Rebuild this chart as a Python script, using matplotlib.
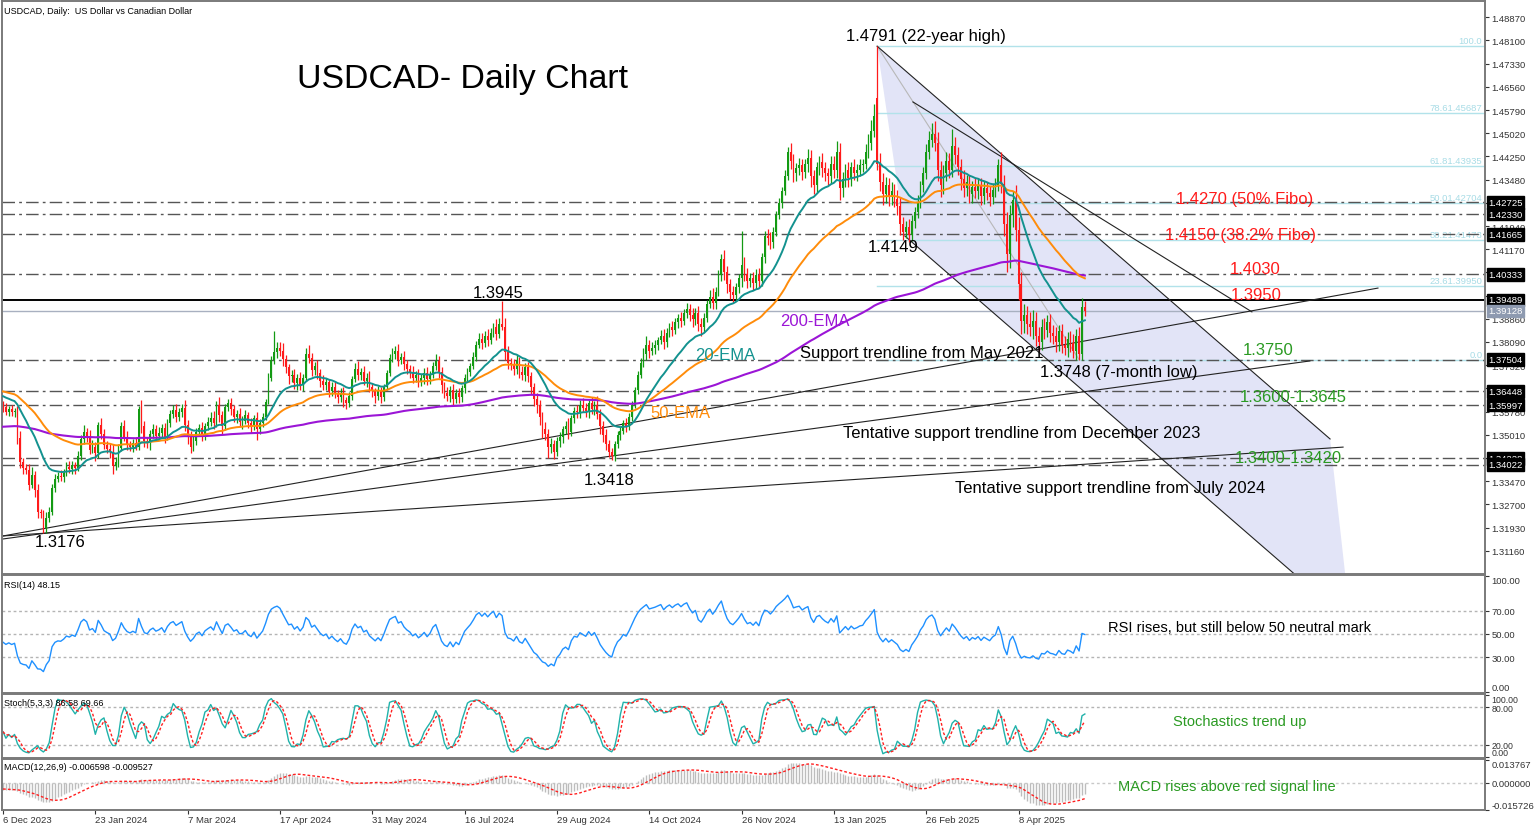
import numpy as np
import matplotlib
matplotlib.use("Agg")
import matplotlib.pyplot as plt

plt.rcParams['font.family'] = ['Liberation Sans', 'DejaVu Sans']

# ---- daily USDCAD closes (bar 0 = 6 Dec 2023) ----
closes = [
    1.3592, 1.3578, 1.3585, 1.3575, 1.3580, 1.3490, 1.3410, 1.3392, 1.3385, 1.3335,
    1.3368, 1.3318, 1.3245, 1.3240, 1.3192, 1.3225, 1.3245, 1.3325, 1.3355, 1.3365,
    1.3362, 1.3375, 1.3395, 1.3388, 1.3400, 1.3392, 1.3432, 1.3488, 1.3510, 1.3498,
    1.3452, 1.3462, 1.3440, 1.3532, 1.3505, 1.3468, 1.3455, 1.3445, 1.3398, 1.3412,
    1.3458, 1.3530, 1.3495, 1.3470, 1.3460, 1.3472, 1.3462, 1.3585, 1.3530, 1.3480,
    1.3472, 1.3505, 1.3520, 1.3498, 1.3508, 1.3525, 1.3495, 1.3540, 1.3570, 1.3582,
    1.3560, 1.3575, 1.3590, 1.3535, 1.3495, 1.3462, 1.3480, 1.3510, 1.3522, 1.3498,
    1.3530, 1.3545, 1.3558, 1.3540, 1.3600, 1.3565, 1.3530, 1.3592, 1.3605, 1.3585,
    1.3560, 1.3570, 1.3545, 1.3548, 1.3565, 1.3540, 1.3530, 1.3555, 1.3520, 1.3540,
    1.3560, 1.3610, 1.3690, 1.3750, 1.3775, 1.3790, 1.3780, 1.3752, 1.3725, 1.3695,
    1.3700, 1.3672, 1.3690, 1.3665, 1.3690, 1.3770, 1.3755, 1.3715, 1.3730, 1.3705,
    1.3680, 1.3665, 1.3675, 1.3645, 1.3660, 1.3640, 1.3625, 1.3640, 1.3615, 1.3605,
    1.3630, 1.3685, 1.3720, 1.3700, 1.3710, 1.3680, 1.3690, 1.3660, 1.3645, 1.3630,
    1.3645, 1.3628, 1.3660, 1.3705, 1.3755, 1.3770, 1.3780, 1.3750, 1.3760, 1.3735,
    1.3720, 1.3710, 1.3690, 1.3700, 1.3680, 1.3690, 1.3705, 1.3685, 1.3700, 1.3730,
    1.3745, 1.3710, 1.3665, 1.3640, 1.3630, 1.3650, 1.3620, 1.3640, 1.3625, 1.3655,
    1.3690, 1.3710, 1.3730, 1.3760, 1.3800, 1.3820, 1.3805, 1.3830, 1.3815, 1.3840,
    1.3860, 1.3835, 1.3870, 1.3860, 1.3775, 1.3740, 1.3735, 1.3720, 1.3745, 1.3710,
    1.3700, 1.3725, 1.3695, 1.3660, 1.3620, 1.3600, 1.3560, 1.3520, 1.3505, 1.3460,
    1.3470, 1.3445, 1.3480, 1.3495, 1.3520, 1.3530, 1.3510, 1.3555, 1.3580, 1.3575,
    1.3600, 1.3590, 1.3580, 1.3605, 1.3585, 1.3600, 1.3570, 1.3530, 1.3500, 1.3470,
    1.3445, 1.3430, 1.3470, 1.3500, 1.3515, 1.3540, 1.3530, 1.3560, 1.3600, 1.3650,
    1.3700, 1.3740, 1.3770, 1.3800, 1.3780, 1.3790, 1.3800, 1.3815, 1.3830, 1.3810,
    1.3840, 1.3860, 1.3850, 1.3875, 1.3890, 1.3880, 1.3905, 1.3920, 1.3900, 1.3885,
    1.3905, 1.3870, 1.3860, 1.3890, 1.3935, 1.3960, 1.3940, 1.3975, 1.4030, 1.4085,
    1.4040, 1.4000, 1.3975, 1.3965, 1.3990, 1.4020, 1.4065, 1.4035, 1.4010, 1.4020,
    1.4005, 1.4030, 1.4010, 1.4090, 1.4160, 1.4155, 1.4140, 1.4175, 1.4230, 1.4270,
    1.4310, 1.4360, 1.4440, 1.4410, 1.4370, 1.4385, 1.4395, 1.4375, 1.4400, 1.4420,
    1.4360, 1.4330, 1.4390, 1.4405, 1.4385, 1.4370, 1.4360, 1.4400, 1.4380, 1.4440,
    1.4320, 1.4350, 1.4380, 1.4355, 1.4390, 1.4370, 1.4380, 1.4395, 1.4400, 1.4440,
    1.4470, 1.4510, 1.4560, 1.4400, 1.4340, 1.4300, 1.4330, 1.4290, 1.4310, 1.4285,
    1.4260, 1.4200, 1.4175, 1.4190, 1.4165, 1.4210, 1.4240, 1.4275, 1.4330, 1.4370,
    1.4440, 1.4480, 1.4500, 1.4470, 1.4380, 1.4330, 1.4370, 1.4410, 1.4380, 1.4460,
    1.4430, 1.4390, 1.4350, 1.4320, 1.4340, 1.4300, 1.4325, 1.4310, 1.4330, 1.4295,
    1.4320, 1.4305, 1.4290, 1.4315, 1.4330, 1.4395, 1.4335, 1.4200, 1.4100, 1.4230,
    1.4280, 1.4180, 1.4000, 1.3880, 1.3900, 1.3870, 1.3860, 1.3880, 1.3830, 1.3810,
    1.3860, 1.3850, 1.3875, 1.3840, 1.3830, 1.3810, 1.3845, 1.3800, 1.3790, 1.3820,
    1.3805, 1.3780, 1.3830, 1.3770, 1.3925, 1.3913,
]
# upper / lower shadow length in pips above/below the candle body
wick_up = [
    12, 15, 10, 14, 9, 18, 22, 15, 12, 20, 25, 14, 18, 10, 12, 20, 15, 11, 16, 13,
    18, 12, 15, 20, 14, 10, 16, 12, 22, 15, 18, 20, 14, 10, 25, 16, 12, 18, 24, 14,
    12, 15, 20, 18, 10, 14, 22, 12, 30, 16, 14, 12, 18, 15, 20, 11, 16, 14, 12, 18,
    20, 15, 12, 25, 14, 18, 16, 12, 15, 20, 10, 14, 18, 22, 12, 25, 16, 10, 15, 18,
    14, 12, 20, 15, 18, 12, 16, 10, 22, 14, 12, 10, 15, 12, 71, 20, 18, 25, 15, 12,
    16, 20, 14, 18, 12, 20, 30, 16, 12, 18, 15, 20, 14, 12, 16, 18, 10, 15, 20, 12,
    14, 10, 18, 25, 12, 20, 16, 22, 14, 12, 18, 15, 10, 12, 14, 20, 16, 22, 12, 18,
    15, 12, 20, 14, 18, 12, 16, 20, 14, 12, 25, 18, 15, 12, 20, 14, 18, 12, 16, 10,
    12, 14, 10, 16, 12, 18, 20, 14, 22, 16, 12, 25, 18, 76, 30, 20, 16, 18, 22, 15,
    20, 14, 18, 16, 12, 20, 15, 18, 22, 16, 20, 14, 12, 15, 10, 18, 25, 12, 14, 20,
    16, 22, 18, 12, 20, 14, 30, 16, 18, 20, 15, 12, 10, 14, 12, 10, 16, 12, 14, 10,
    12, 15, 18, 30, 14, 20, 16, 12, 18, 22, 14, 12, 20, 15, 12, 18, 14, 20, 16, 22,
    18, 25, 20, 14, 12, 20, 28, 15, 18, 16, 30, 22, 18, 20, 14, 16, 112, 25, 20, 18,
    22, 20, 25, 15, 18, 24, 20, 16, 14, 18, 12, 20, 15, 30, 22, 18, 25, 20, 18, 30,
    25, 20, 18, 22, 30, 20, 18, 25, 28, 35, 30, 22, 20, 28, 18, 25, 20, 22, 18, 25,
    30, 35, 40, 171, 35, 30, 28, 25, 30, 22, 28, 30, 25, 22, 28, 20, 18, 22, 15, 20,
    25, 30, 35, 43, 35, 30, 25, 30, 28, 56, 30, 28, 25, 30, 22, 25, 20, 28, 24, 22,
    25, 20, 22, 18, 25, 20, 45, 30, 40, 35, 30, 50, 45, 40, 35, 30, 40, 35, 30, 28,
    25, 30, 22, 28, 25, 30, 20, 25, 28, 22, 25, 30, 22, 28, 30, 20,
]
wick_dn = [
    14, 10, 16, 12, 15, 20, 18, 22, 15, 18, 12, 25, 20, 15, 16, 18, 12, 10, 14, 12,
    15, 18, 12, 14, 16, 20, 12, 15, 18, 22, 14, 12, 25, 15, 18, 14, 16, 20, 28, 15,
    18, 12, 15, 20, 14, 16, 12, 10, 22, 18, 15, 20, 14, 18, 12, 16, 22, 10, 14, 15,
    18, 12, 15, 22, 25, 20, 16, 14, 12, 18, 15, 12, 14, 20, 12, 22, 30, 14, 12, 18,
    15, 20, 14, 25, 12, 18, 22, 14, 38, 16, 12, 10, 8, 12, 15, 20, 16, 22, 18, 25,
    20, 18, 22, 15, 20, 12, 16, 20, 14, 18, 22, 16, 15, 20, 14, 18, 20, 15, 22, 18,
    12, 14, 10, 16, 18, 14, 20, 16, 18, 22, 14, 20, 16, 12, 10, 14, 16, 20, 15, 18,
    16, 20, 18, 14, 20, 16, 22, 18, 14, 12, 15, 20, 25, 18, 16, 20, 24, 15, 20, 14,
    16, 12, 14, 10, 15, 12, 20, 14, 18, 12, 15, 20, 14, 10, 25, 20, 18, 22, 16, 20,
    18, 22, 20, 25, 22, 28, 25, 30, 22, 35, 20, 25, 14, 18, 20, 15, 22, 12, 16, 20,
    18, 15, 20, 22, 16, 20, 18, 25, 22, 20, 18, 12, 16, 14, 18, 12, 20, 14, 12, 10,
    15, 12, 14, 20, 25, 15, 20, 18, 14, 25, 16, 14, 20, 15, 18, 22, 14, 18, 22, 25,
    20, 25, 30, 18, 15, 12, 22, 20, 14, 18, 25, 30, 22, 25, 20, 18, 30, 25, 22, 20,
    25, 20, 22, 15, 20, 25, 22, 18, 15, 12, 15, 14, 12, 28, 30, 25, 22, 28, 20, 25,
    35, 30, 22, 25, 28, 25, 30, 22, 25, 28, 40, 30, 25, 30, 28, 22, 25, 20, 22, 18,
    20, 25, 22, 20, 30, 35, 28, 30, 25, 28, 30, 35, 26, 22, 25, 20, 22, 18, 20, 22,
    20, 25, 22, 28, 35, 40, 30, 28, 25, 22, 30, 28, 35, 30, 25, 28, 30, 22, 25, 30,
    28, 25, 30, 22, 25, 20, 30, 40, 60, 45, 40, 35, 50, 45, 40, 35, 30, 40, 35, 30,
    28, 30, 25, 30, 28, 35, 30, 28, 25, 30, 28, 25, 30, 22, 20, 18,
]
first_open = 1.3600
gap_opens = {303: 1.4620}

date_labels = ["6 Dec 2023", "23 Jan 2024", "7 Mar 2024", "17 Apr 2024", "31 May 2024",
               "16 Jul 2024", "29 Aug 2024", "14 Oct 2024", "26 Nov 2024", "13 Jan 2025",
               "26 Feb 2025", "8 Apr 2025"]
date_every = 32

ema_start = {20: 1.3633, 50: 1.3647, 200: 1.3527}
macd_start = (1.3625, 1.3670, -0.0035)   # ema12, ema26, signal
rsi_start = (0.0011, 0.0014)             # avg gain, avg loss

# horizontal levels and right-axis tags
levels = [1.42725, 1.42330, 1.41665, 1.40333, 1.37504, 1.36448, 1.35997, 1.34228, 1.34022]
key_level = 1.39489
last_price = 1.39128
fib_prices = [1.37504, 1.39950, 1.41473, 1.42704, 1.43935, 1.45687, 1.47913]
fib_names = ["0.0", "23.61.39950", "38.21.41473", "50.01.42704", "61.81.43935", "78.61.45687", "100.0"]
fib_start = 303

# drawn objects: (bar, price) anchors
trend_lines = [
    [(303, 1.4791), (460.0, 1.3487)],
    [(315.4, 1.4606), (432.9, 1.3909)],
    [(312.6, 1.4161), (460.0, 1.2936)],
    [(0, 1.3165), (476.6, 1.3988)],
    [(0, 1.3155), (453.0, 1.3746)],
    [(0, 1.3165), (464.5, 1.3460)],
]
fib_base = [(303, 1.47913), (373, 1.37504)]
channel = [(303, 1.4791), (460.0, 1.3487), (467.1, 1.2878), (312.6, 1.4161)]

# ---- derived series ----
c = np.array(closes)
n = len(c)
o = np.empty(n)
o[0] = first_open
o[1:] = c[:-1]
for k, v in gap_opens.items():
    o[k] = v
h = np.maximum(o, c) + np.array(wick_up) / 10000
l = np.minimum(o, c) - np.array(wick_dn) / 10000
x = np.arange(n)


def ema(vals, period, start):
    a = 2.0 / (period + 1)
    out, prev = [], start
    for v in vals:
        prev = prev + a * (v - prev)
        out.append(prev)
    return np.array(out)


ema20 = ema(c, 20, ema_start[20])
ema50 = ema(c, 50, ema_start[50])
ema200 = ema(c, 200, ema_start[200])

# RSI(14), Wilder smoothing
ag, al = rsi_start
rsi = []
prev = first_open
for v in c:
    d = v - prev
    ag = (ag * 13 + max(d, 0)) / 14
    al = (al * 13 + max(-d, 0)) / 14
    rsi.append(100 - 100 / (1 + ag / al))
    prev = v
rsi = np.array(rsi)

# Stochastic(5,3,3)
num, den = [], []
for i in range(n):
    lo = l[max(0, i - 4):i + 1].min()
    hi = h[max(0, i - 4):i + 1].max()
    num.append(c[i] - lo)
    den.append(hi - lo)
num, den = np.array(num), np.array(den)
stoch_k = np.array([100 * num[max(0, i - 2):i + 1].sum() / den[max(0, i - 2):i + 1].sum() for i in range(n)])
stoch_d = np.array([stoch_k[max(0, i - 2):i + 1].mean() for i in range(n)])

# MACD(12,26,9)
macd = ema(c, 12, macd_start[0]) - ema(c, 26, macd_start[1])
hist = [macd_start[2]] * 8 + list(macd)
signal = np.array([np.mean(hist[i:i + 9]) for i in range(n)])

# ---- figure layout (pixel based) ----
W, H = 1536, 829
fig = plt.figure(figsize=(W / 100, H / 100), dpi=100)


def box(x0, y0, x1, y1):
    return [x0 / W, 1 - y1 / H, (x1 - x0) / W, (y1 - y0) / H]


ax = fig.add_axes(box(2, 2, 1485, 575))
ax_rsi = fig.add_axes(box(2, 576, 1485, 694))
ax_sto = fig.add_axes(box(2, 695, 1485, 759))
ax_macd = fig.add_axes(box(2, 760, 1485, 811))

for a in (ax, ax_rsi, ax_sto, ax_macd):
    a.set_xlim(-0.35, 513.7)
    for s in a.spines.values():
        s.set_color('#7a7a7a')
        s.set_linewidth(1.4)
    a.yaxis.tick_right()
    a.tick_params(axis='y', direction='out', length=3, width=0.8, labelsize=6.8,
                  colors='#333333', pad=1.5)
    a.tick_params(axis='x', bottom=False, labelbottom=False)


def edge_labels(a, first='bottom', last='top'):
    # MT4 keeps the extreme scale labels inside the panel
    tks = a.yaxis.get_major_ticks()
    tks[0].label2.set_va(first)
    tks[-1].label2.set_va(last)


ax.set_ylim(1.30387, 1.49411)
ticks = [1.3116 + 0.0077 * k for k in range(24)]
tags = levels + [key_level]
ax.set_yticks(ticks)
ax.set_yticklabels(["" if min(abs(t - g) for g in tags) < 0.0016 else f"{t:.5f}" for t in ticks])

# channel shading and fibonacci
ax.fill([p[0] for p in channel], [p[1] for p in channel], color='#e2e4f7', lw=0, zorder=0.5)
for p, name in zip(fib_prices, fib_names):
    ax.plot([fib_start, 513.7], [p, p], color='#b2e2ea', lw=1, zorder=0.8)
    ax.text(512.8, p + 0.0003, name, color='#a8dce6', fontsize=6.8, ha='right', va='bottom', zorder=0.9)
ax.plot([fib_base[0][0], fib_base[1][0]], [fib_base[0][1], fib_base[1][1]], color='#b8b8b8', lw=0.8, zorder=0.9)

for lv in levels:
    ax.axhline(lv, color='#555555', lw=1.0, dashes=(9, 3, 2, 3), zorder=1)
ax.axhline(key_level, color='black', lw=1.4, zorder=1)
ax.axhline(last_price, color='#a8b0c0', lw=1.0, zorder=1)

for (x0, y0), (x1, y1) in trend_lines:
    ax.plot([x0, x1], [y0, y1], color='#222222', lw=0.8, zorder=1.2)

# candles
up = c >= o
col = np.where(up, '#139a13', '#ff1a1a')
ax.vlines(x, l, h, colors=col, lw=0.9, zorder=2)
ax.bar(x, np.maximum(np.abs(c - o), 0.00015), bottom=np.minimum(o, c), width=0.62,
       color=col, lw=0, zorder=2.1)

ax.plot(x, ema200, color='#9b15d6', lw=1.5, zorder=3)
ax.plot(x, ema50, color='#ff8c0a', lw=1.4, zorder=3)
ax.plot(x, ema20, color='#13928f', lw=1.4, zorder=3)

# right-axis tags
tr = ax.get_yaxis_transform()
for lv in tags:
    ax.text(1.0022, lv, f"{lv:.5f}", transform=tr, color='white', fontsize=6.8, ha='left', va='center',
            bbox=dict(boxstyle='square,pad=0.18', fc='black', ec='black'), zorder=10, clip_on=False)
ax.text(1.0022, last_price, f"{last_price:.5f}", transform=tr, color='white', fontsize=6.8, ha='left',
        va='center', bbox=dict(boxstyle='square,pad=0.18', fc='#8e9ab0', ec='#8e9ab0'), zorder=10, clip_on=False)

# texts
ax.text(0.0015, 0.992, "USDCAD, Daily:  US Dollar vs Canadian Dollar", transform=ax.transAxes,
        fontsize=6.5, va='top', ha='left')
ax.text(0.199, 0.864, "USDCAD- Daily Chart", transform=ax.transAxes, fontsize=24.4, va='center', ha='left')

notes = [
    (292.2, 1.4828, "1.4791 (22-year high)", 'black'),
    (299.8, 1.4126, "1.4149", 'black'),
    (162.9, 1.3972, "1.3945", 'black'),
    (201.4, 1.3351, "1.3418", 'black'),
    (11.1, 1.3146, "1.3176", 'black'),
    (359.4, 1.3710, "1.3748 (7-month low)", 'black'),
    (276.3, 1.3773, "Support trendline from May 2021", 'black'),
    (291.2, 1.3507, "Tentative support trendline from December 2023", 'black'),
    (330.0, 1.3325, "Tentative support trendline from July 2024", 'black'),
    (269.3, 1.3879, "200-EMA", '#9b15d6'),
    (239.9, 1.3766, "20-EMA", '#13928f'),
    (224.3, 1.3574, "50-EMA", '#ff8c0a'),
    (406.6, 1.4284, "1.4270 (50% Fibo)", '#ff1a1a'),
    (402.8, 1.4165, "1.4150 (38.2% Fibo)", '#ff1a1a'),
    (425.3, 1.4052, "1.4030", '#ff1a1a'),
    (425.6, 1.3966, "1.3950", '#ff1a1a'),
    (429.8, 1.3783, "1.3750", '#2a9a22'),
    (428.8, 1.3627, "1.3600-1.3645", '#2a9a22'),
    (427.0, 1.3424, "1.3400-1.3420", '#2a9a22'),
]
for bx, py, s, cl in notes:
    ax.text(bx, py, s, color=cl, fontsize=12, ha='left', va='center', zorder=6)

# RSI panel
ax_rsi.set_ylim(-0.6, 100.6)
ax_rsi.set_yticks([0, 30, 50, 70, 100])
ax_rsi.set_yticklabels(["0.00", "30.00", "50.00", "70.00", "100.00"])
edge_labels(ax_rsi)
for lv in (30, 50, 70):
    ax_rsi.axhline(lv, color='#b4b4b4', lw=1, ls=(0, (2, 2)))
ax_rsi.plot(x, rsi, color='#1e90ff', lw=1)
ax_rsi.text(0.0015, 0.96, "RSI(14) 48.15", transform=ax_rsi.transAxes, fontsize=6.5, va='top')
ax_rsi.text(383, 56, "RSI rises, but still below 50 neutral mark", fontsize=10.5, va='center')

# Stochastic panel
ax_sto.set_ylim(-0.8, 101.4)
ax_sto.set_yticks([0, 20, 80, 100])
ax_sto.set_yticklabels(["0.00", "20.00", "80.00", "100.00"])
edge_labels(ax_sto)
for t in ax_sto.get_yticklabels():
    t.set_fontsize(6.3)
for lv in (20, 80):
    ax_sto.axhline(lv, color='#b4b4b4', lw=1, ls=(0, (2, 2)))
ax_sto.plot(x, stoch_k, color='#20b2aa', lw=1)
ax_sto.plot(x, stoch_d, color='#ff2020', lw=1, ls=(0, (2, 1.5)))
ax_sto.text(0.0015, 0.94, "Stoch(5,3,3) 86.58 69.66", transform=ax_sto.transAxes, fontsize=6.5, va='top')
ax_sto.text(405.5, 57.6, "Stochastics trend up", color='#2a9a22', fontsize=10.5, va='center')

# MACD panel
ax_macd.set_ylim(-0.0160, 0.0141)
ax_macd.set_yticks([-0.015726, 0.0, 0.013767])
ax_macd.set_yticklabels(["-0.015726", "0.000000", "0.013767"])
edge_labels(ax_macd)
ax_macd.axhline(0, color='#c8c8c8', lw=1, ls=(0, (2, 2)))
ax_macd.vlines(x, 0, macd, colors='#bdbdbd', lw=1.0)
ax_macd.plot(x, signal, color='#ff2020', lw=1, ls=(0, (2, 1.5)))
ax_macd.text(0.0015, 0.94, "MACD(12,26,9) -0.006598 -0.009527", transform=ax_macd.transAxes,
             fontsize=6.5, va='top')
ax_macd.text(386.5, -0.0016, "MACD rises above red signal line", color='#2a9a22', fontsize=10.5, va='center')

ax_macd.tick_params(axis='x', bottom=True, labelbottom=True, direction='out', length=3, width=0.8,
                    labelsize=6.8, colors='#333333', pad=0.5)
ax_macd.set_xticks([k * date_every for k in range(len(date_labels))])
ax_macd.set_xticklabels(date_labels, ha='left')

fig.savefig("out.png", dpi=100, facecolor='white')
